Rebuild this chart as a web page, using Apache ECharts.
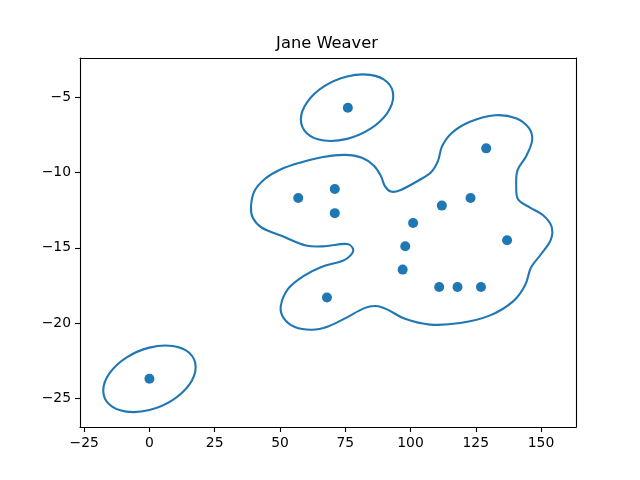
<!DOCTYPE html>
<html>
<head>
<meta charset="utf-8">
<style>html,body{margin:0;padding:0;background:#fff}#c{width:640px;height:480px}</style>
<script src="https://cdn.jsdelivr.net/npm/echarts@6/dist/echarts.min.js"></script>
</head>
<body>
<div id="c"></div>
<script>
const titleText = "Jane Weaver";
const xTicks = [-25, 0, 25, 50, 75, 100, 125, 150];
const yTicks = [-25, -20, -15, -10, -5];
const points = [[0,-23.7],[76,-5.7],[57,-11.7],[71,-11.1],[71,-12.7],[101,-13.35],[112,-12.2],[123,-11.7],[129,-8.4],[137,-14.5],[98,-14.9],[97,-16.45],[111,-17.6],[118,-17.6],[127,-17.6],[68,-18.3]];
const contourMain = [[38.9,-12.31],[40.2,-11.25],[44.3,-10.42],[50.0,-9.82],[57.7,-9.35],[66.5,-8.97],[74.9,-8.83],[81.4,-9.02],[86.0,-9.55],[88.7,-10.25],[90.2,-10.91],[92.5,-11.27],[96.0,-11.18],[102.9,-10.55],[107.9,-9.98],[110.5,-9.25],[112.1,-8.26],[115.9,-7.36],[122.8,-6.63],[132.4,-6.20],[140.4,-6.40],[145.4,-7.06],[146.6,-7.86],[144.3,-8.92],[141.0,-9.85],[140.5,-10.85],[141.2,-11.78],[145.8,-12.33],[150.8,-12.84],[154.0,-13.57],[153.8,-14.44],[150.0,-15.43],[146.2,-16.30],[143.9,-17.49],[139.3,-18.56],[130.5,-19.49],[119.0,-20.0],[107.5,-20.10],[97.9,-19.72],[91.0,-19.09],[86.8,-18.87],[82.6,-18.99],[74.9,-19.69],[68.4,-20.22],[62.3,-20.44],[55.7,-20.26],[51.5,-19.69],[50.3,-18.89],[53.1,-17.73],[58.8,-16.90],[66.1,-16.26],[74.1,-15.86],[77.2,-15.47],[78.0,-15.07],[75.7,-14.75],[67.2,-14.90],[60.0,-14.85],[50.8,-14.22],[43.1,-13.67],[39.7,-13.04]];
const contourTop = [[93.4,-4.93],[91.03,-3.99],[84.55,-3.52],[75.7,-3.63],[66.85,-4.29],[60.37,-5.34],[58.0,-6.47],[60.37,-7.41],[66.85,-7.88],[75.7,-7.77],[84.55,-7.11],[91.03,-6.07]];
const contourBottom = [[17.7,-22.93],[15.33,-21.99],[8.85,-21.52],[0,-21.63],[-8.85,-22.29],[-15.33,-23.34],[-17.7,-24.47],[-15.33,-25.41],[-8.85,-25.88],[0,-25.77],[8.85,-25.11],[15.33,-24.07]];

const xMin = -26.6, xMax = 163.4, yMin = -26.9, yMax = -2.4;
const blue = "#1f77b4";
const font = "DejaVu Sans";
const fmt = v => String(v).replace("-", "\u2212");
// Closed contour drawn through the axes' own scales; smoothing is done by the polygon shape.
const contour = (a, smooth) => ({
  type:"custom", data:a, encode:{x:0,y:1}, silent:true, z:2, clip:true,
  renderItem:(params, api) => params.dataIndex !== 0 ? null : ({
    type:"polygon",
    shape:{points:a.map(p => api.coord(p)), smooth},
    style:{fill:"none", stroke:blue, lineWidth:2.1}
  })
});

function axis(pos, min, max, ticks, primary, padding) {
  return {
    type:"value", position:pos, min, max, scale:true, splitLine:{show:false},
    axisLine:{show:true, onZero:false, lineStyle:{color:"#000",width:1.1}},
    axisTick:{show:primary, length:5, lineStyle:{color:"#000",width:1.1}, customValues:ticks},
    axisLabel:{show:primary, color:"#000", fontFamily:font, fontSize:13.9, margin:9, padding, formatter:fmt, customValues:ticks, showMinLabel:true, showMaxLabel:true}
  };
}
const chart = echarts.init(document.getElementById("c"), null, {renderer:"canvas"});
chart.setOption({
  animation:false,
  backgroundColor:"#fff",
  title:{text:titleText, left:322, textAlign:"center", top:30.5, textStyle:{fontFamily:font, fontSize:16.3, fontWeight:"normal", color:"#000"}},
  grid:{left:80, right:64, top:58, bottom:53, containLabel:false},
  xAxis:[axis("bottom",xMin,xMax,xTicks,true,0), axis("top",xMin,xMax,xTicks,false,0)],
  yAxis:[axis("left",yMin,yMax,yTicks,true,[2,0,0,0]), axis("right",yMin,yMax,yTicks,false,0)],
  series:[
    contour(contourMain, 0.36), contour(contourTop, 0.35), contour(contourBottom, 0.35),
    {type:"scatter", data:points, symbolSize:10, itemStyle:{color:blue,opacity:1}, z:3}
  ]
});
</script>
</body>
</html>
